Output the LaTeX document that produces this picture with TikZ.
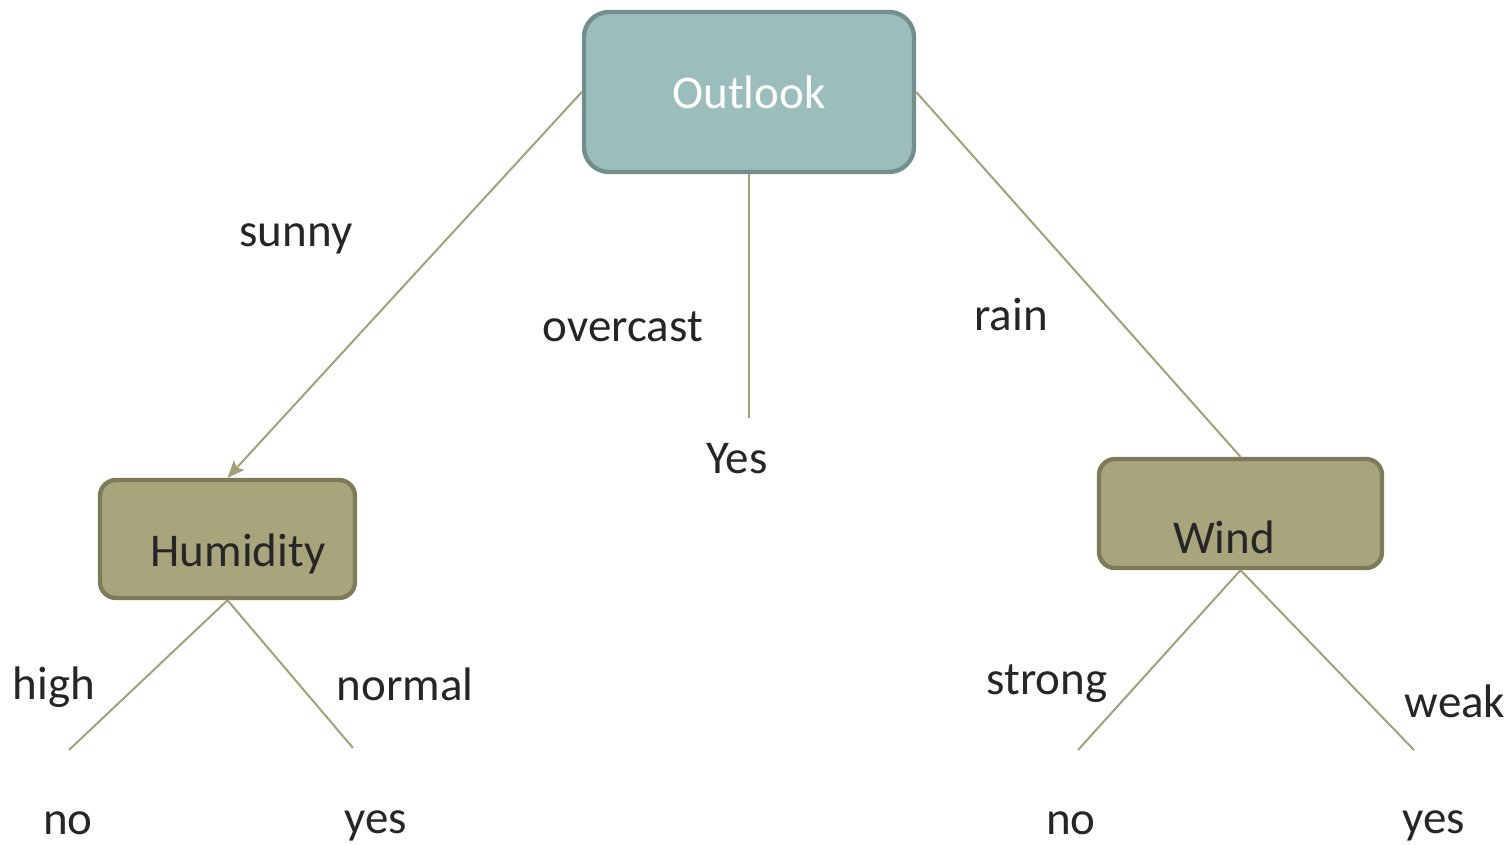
\documentclass[tikz,border=0pt]{standalone}
\usepackage{fontspec}
\setmainfont{Carlito}
\usetikzlibrary{arrows.meta,positioning}
\definecolor{tealfill}{HTML}{9BBDBC}
\definecolor{tealedge}{HTML}{738F8D}
\definecolor{olivefill}{HTML}{A8A57D}
\definecolor{oliveedge}{HTML}{7E7B5B}
\definecolor{branch}{HTML}{A3A07A}
\definecolor{ink}{HTML}{262626}
\tikzset{
  >={Stealth[length=8.5pt,width=7pt,inset=1.5pt]},
  rootbox/.style={draw=tealedge, fill=tealfill, line width=2.2pt, rounded corners=12.5pt,
    minimum width=165pt, minimum height=80pt, inner sep=0pt},
  attrbox/.style={draw=oliveedge, fill=olivefill, line width=2.2pt, rounded corners=8pt, inner sep=0pt},
  txt/.style={text=ink, font=\fontsize{23.5}{28}\selectfont, inner sep=0pt},
  edge/.style={draw=branch, line width=1pt},
}
\begin{document}
\begin{tikzpicture}[x=0.5pt, y=-0.5pt]
\useasboundingbox (0,0) rectangle (1512,845);
% inner nodes
\node[rootbox, text=white, font=\fontsize{23.5}{28}\selectfont] (outlook) at (749,92) {Outlook};
\node[attrbox, minimum width=127.5pt, minimum height=59pt] (hum) at (227.5,539) {};
\node[txt] (humtxt) at (238,554) {Humidity};
\node[attrbox, minimum width=141.5pt, minimum height=54.5pt] (wind) at (1240.5,513.5) {};
\node[txt] (windtxt) at (1224,537) {Wind};
% leaf ends
\coordinate (yesend) at (749,418);
\coordinate (hnoend) at (69,750);
\coordinate (hyesend) at (353,748);
\coordinate (wnoend) at (1078,750);
\coordinate (wyesend) at (1414,750);
% branches
\draw[edge,->] (outlook.west) -- (hum.north);
\draw[edge] (outlook.south) -- (yesend);
\draw[edge] (outlook.east) -- (wind.north);
\draw[edge] (hum.south) -- (hnoend);
\draw[edge] (hum.south) -- (hyesend);
\draw[edge] (wind.south) -- (wnoend);
\draw[edge] (wind.south) -- (wyesend);
% branch labels
\node[txt] (sunny) at (296,239) {sunny};
\node[txt] (overcast) at (623,327) {overcast};
\node[txt] (rain) at (1011,315) {rain};
\node[txt] (high) at (54,687) {high};
\node[txt] (normal) at (405,684) {normal};
\node[txt] (strong) at (1047,684) {strong};
\node[txt] (weak) at (1455,701) {weak};
% leaves
\node[txt] (yes) at (737,459) {Yes};
\node[txt] (hno) at (68,823) {no};
\node[txt] (hyes) at (376,826) {yes};
\node[txt] (wno) at (1071,823) {no};
\node[txt] (wyes) at (1434,826) {yes};
\end{tikzpicture}
\end{document}
